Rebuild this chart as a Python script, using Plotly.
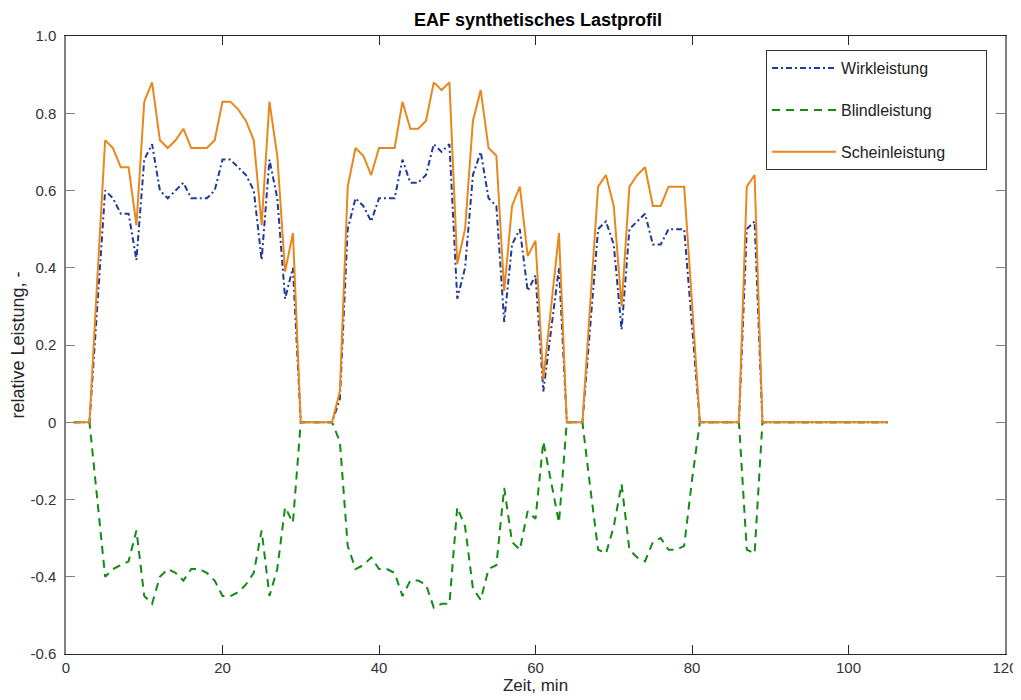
import plotly.graph_objects as go

minutes = list(range(1, 106))

wirk = [0, 0, 0, 0.30, 0.60, 0.58, 0.54, 0.54, 0.42, 0.68,
        0.72, 0.60, 0.58, 0.60, 0.62, 0.58, 0.58, 0.58, 0.60, 0.68,
        0.68, 0.66, 0.64, 0.60, 0.42, 0.68, 0.58, 0.32, 0.40, 0,
        0, 0, 0, 0, 0.06, 0.50, 0.58, 0.56, 0.52, 0.58,
        0.58, 0.58, 0.68, 0.62, 0.62, 0.64, 0.72, 0.70, 0.72, 0.32,
        0.40, 0.64, 0.70, 0.58, 0.56, 0.26, 0.46, 0.50, 0.34, 0.38,
        0.08, 0.24, 0.40, 0, 0, 0, 0.25, 0.50, 0.52, 0.46,
        0.24, 0.50, 0.52, 0.54, 0.46, 0.46, 0.50, 0.50, 0.50, 0.25,
        0, 0, 0, 0, 0, 0, 0.50, 0.52, 0, 0,
        0, 0, 0, 0, 0, 0, 0, 0, 0, 0,
        0, 0, 0, 0, 0]

blind = [0, 0, 0, -0.20, -0.40, -0.38, -0.37, -0.36, -0.28, -0.45,
         -0.47, -0.40, -0.38, -0.39, -0.41, -0.38, -0.38, -0.39, -0.41, -0.45,
         -0.45, -0.44, -0.42, -0.39, -0.28, -0.45, -0.38, -0.22, -0.26, 0,
         0, 0, 0, 0, -0.05, -0.32, -0.38, -0.37, -0.35, -0.38,
         -0.38, -0.39, -0.45, -0.41, -0.41, -0.42, -0.48, -0.47, -0.47, -0.22,
         -0.27, -0.43, -0.46, -0.38, -0.37, -0.17, -0.31, -0.33, -0.23, -0.25,
         -0.05, -0.16, -0.26, 0, 0, 0, -0.17, -0.33, -0.34, -0.27,
         -0.16, -0.33, -0.35, -0.36, -0.31, -0.30, -0.33, -0.33, -0.32, -0.15,
         0, 0, 0, 0, 0, 0, -0.33, -0.34, 0, 0,
         0, 0, 0, 0, 0, 0, 0, 0, 0, 0,
         0, 0, 0, 0, 0]

schein = [0, 0, 0, 0.37, 0.73, 0.71, 0.66, 0.66, 0.51, 0.83,
          0.88, 0.73, 0.71, 0.73, 0.76, 0.71, 0.71, 0.71, 0.73, 0.83,
          0.83, 0.81, 0.78, 0.73, 0.51, 0.83, 0.69, 0.39, 0.49, 0,
          0, 0, 0, 0, 0.08, 0.61, 0.71, 0.69, 0.64, 0.71,
          0.71, 0.71, 0.83, 0.76, 0.76, 0.78, 0.88, 0.86, 0.88, 0.41,
          0.50, 0.78, 0.86, 0.71, 0.69, 0.34, 0.56, 0.61, 0.43, 0.47,
          0.11, 0.30, 0.49, 0, 0, 0, 0.31, 0.61, 0.64, 0.56,
          0.30, 0.61, 0.64, 0.66, 0.56, 0.56, 0.61, 0.61, 0.61, 0.31,
          0, 0, 0, 0, 0, 0, 0.61, 0.64, 0, 0,
          0, 0, 0, 0, 0, 0, 0, 0, 0, 0,
          0, 0, 0, 0, 0]

series_names = ["Wirkleistung", "Blindleistung", "Scheinleistung"]
x_ticks = [0, 20, 40, 60, 80, 100, 120]
y_ticks = [-0.6, -0.4, -0.2, 0, 0.2, 0.4, 0.6, 0.8, 1.0]
y_ticktext = ["-0.6", "-0.4", "-0.2", "0", "0.2", "0.4", "0.6", "0.8", "1.0"]

FONT = "Liberation Sans, Arial, sans-serif"

# the page body adds an 8px offset, so the figure is drawn 8px smaller
W, H = 1013, 692
PAD = "\u00a0" * 8  # widens the legend box like the reference

fig = go.Figure()
fig.add_trace(go.Scatter(x=minutes, y=wirk, mode="lines", name=series_names[0],
                         legendgroup="a",
                         line=dict(color="#1f3b99", width=2, dash="6px,3px,2px,3px")))
fig.add_trace(go.Scatter(x=minutes, y=blind, mode="lines", name=series_names[1],
                         legendgroup="b",
                         line=dict(color="#138a13", width=2, dash="8px,6px")))
fig.add_trace(go.Scatter(x=minutes, y=schein, mode="lines", name=series_names[2] + PAD,
                         legendgroup="c",
                         line=dict(color="#e8871e", width=2)))

fig.update_layout(
    width=W, height=H,
    margin=dict(l=58, r=16, t=28, b=46, autoexpand=False),
    paper_bgcolor="white", plot_bgcolor="white",
    font=dict(family=FONT, size=15, color="#333333"),
    title=dict(text="<b>EAF synthetisches Lastprofil</b>", x=(538 - 8) / W, xanchor="center",
               y=1 - 12 / H, yanchor="middle", yref="container", automargin=False,
               font=dict(family=FONT, size=18, color="#000000")),
    legend=dict(x=0.7455, xanchor="left", y=0.977, yanchor="top",
                bgcolor="white", bordercolor="#333333", borderwidth=1,
                font=dict(family=FONT, size=16, color="#222222"),
                tracegroupgap=18, itemwidth=64),
    showlegend=True,
)
fig.update_xaxes(range=[0, 120], tickvals=x_ticks, ticks="inside", ticklen=9,
                 tickcolor="#262626", showline=True, linecolor="#262626", linewidth=1,
                 mirror="ticks", showgrid=False, zeroline=False, automargin=False,
                 tickfont=dict(family=FONT, size=15, color="#333333"),
                 title=dict(text="Zeit, min", font=dict(family=FONT, size=17, color="#262626"),
                            standoff=4))
fig.update_yaxes(range=[-0.6, 1.0], tickvals=y_ticks, ticktext=y_ticktext,
                 ticks="inside", ticklen=9, tickcolor="#808080", ticklabelstandoff=5,
                 showline=True, linecolor="#808080", linewidth=1.5, mirror="ticks",
                 showgrid=False, zeroline=False, automargin=False,
                 tickfont=dict(family=FONT, size=15, color="#333333"),
                 title=dict(text="relative Leistung, -", font=dict(family=FONT, size=18, color="#262626"),
                            standoff=6))

fig.write_html("out.html")
